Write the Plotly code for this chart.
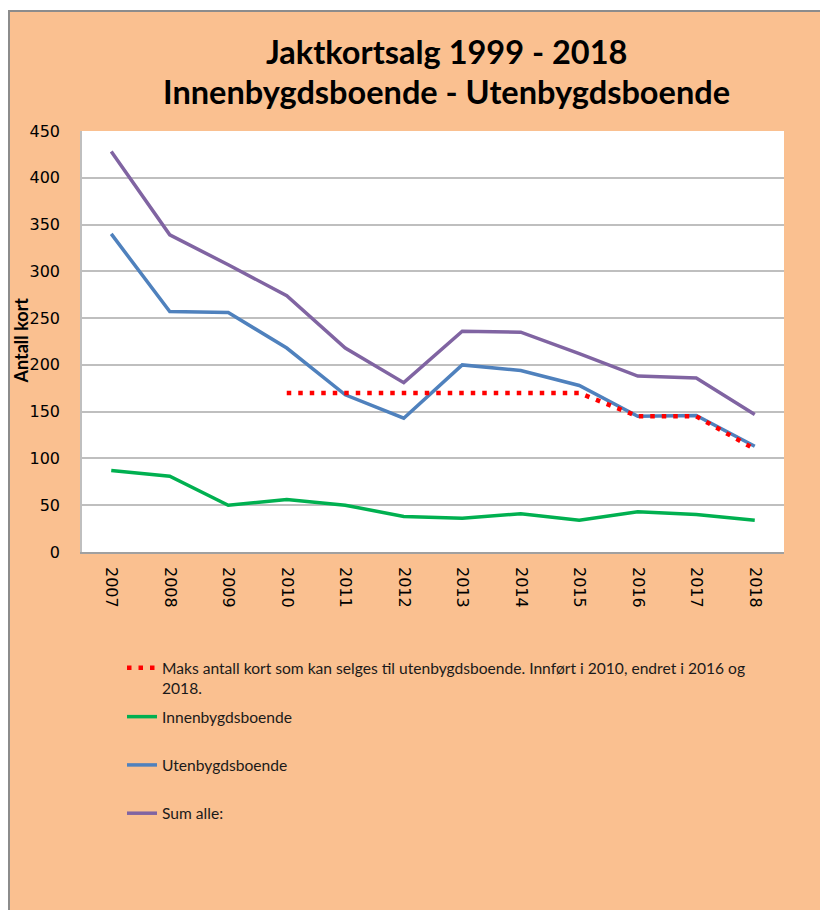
import plotly.graph_objects as go

years = ["2007", "2008", "2009", "2010", "2011", "2012", "2013", "2014", "2015", "2016", "2017", "2018"]
innen = [87, 81, 50, 56, 50, 38, 36, 41, 34, 43, 40, 34]
uten = [340, 257, 256, 218, 168, 143, 200, 194, 178, 145, 146, 113]
sum_alle = [428, 339, 307, 274, 218, 181, 236, 235, 212, 188, 186, 147]
maks = [None, None, None, 170, 170, 170, 170, 170, 170, 145, 145, 110]

name_maks = "Maks antall kort som kan selges til utenbygdsboende. Innført i 2010, endret i 2016 og<br>2018."
name_innen = "Innenbygdsboende"
name_uten = "Utenbygdsboende"
name_sum = "Sum alle:"
title1 = "Jaktkortsalg 1999 - 2018"
title2 = "Innenbygdsboende - Utenbygdsboende"
ytitle = "Antall kort"

# page geometry (the page body adds an 8px offset)
OFF = 8
PW, PH = 828, 910
W, H = PW - OFF, PH - OFF
L, R, T, B = 82, 784, 131, 552   # plot area in page pixels
ORANGE = "#FAC090"


def px(x):
    return (x - L) / (R - L)


def py(y):
    return (B - y) / (B - T)


fig = go.Figure()
fig.add_trace(go.Scatter(x=years, y=innen, name=name_innen, mode="lines",
                         line=dict(color="#00B050", width=3.5),
                         legend="legend2", legendgroup="g1"))
fig.add_trace(go.Scatter(x=years, y=uten, name=name_uten, mode="lines",
                         line=dict(color="#4F81BD", width=3.5),
                         legend="legend2", legendgroup="g2"))
fig.add_trace(go.Scatter(x=years, y=sum_alle, name=name_sum, mode="lines",
                         line=dict(color="#8064A2", width=3.5),
                         legend="legend2", legendgroup="g3"))
fig.add_trace(go.Scatter(x=years, y=maks, name=name_maks, mode="lines",
                         line=dict(color="#FF0000", width=4.5, dash="4.5px,7px"),
                         connectgaps=False, legend="legend"))

shapes = [
    dict(type="rect", xref="paper", yref="paper", x0=px(0), x1=px(PW), y0=py(0), y1=py(10.5),
         fillcolor="white", line=dict(width=0), layer="above"),
    dict(type="line", xref="paper", yref="paper", x0=px(8), x1=px(PW), y0=py(11), y1=py(11),
         line=dict(color="#8C8C8C", width=2), layer="above"),
    dict(type="line", xref="paper", yref="paper", x0=px(9), x1=px(9), y0=py(10), y1=py(PH),
         line=dict(color="#8C8C8C", width=2), layer="above"),
]

annotations = [
    dict(text="<b>" + title1 + "</b>", xref="paper", yref="paper", x=px(446), y=py(51),
         xanchor="center", yanchor="middle", showarrow=False,
         font=dict(family="Lato", size=32.5, color="black")),
    dict(text="<b>" + title2 + "</b>", xref="paper", yref="paper", x=px(446), y=py(92),
         xanchor="center", yanchor="middle", showarrow=False,
         font=dict(family="Lato", size=32.5, color="black")),
    dict(text="<b>" + ytitle + "</b>", xref="paper", yref="paper", x=px(20.5), y=py(341),
         xanchor="center", yanchor="middle", showarrow=False, textangle=-90,
         font=dict(family="Lato", size=18, color="black")),
]

fig.update_layout(
    width=W, height=H,
    margin=dict(l=L - OFF, r=PW - R, t=T - OFF, b=PH - B, pad=0),
    paper_bgcolor=ORANGE, plot_bgcolor="white",
    shapes=shapes, annotations=annotations,
    showlegend=True,
    legend=dict(x=px(122), y=py(651), xanchor="left", yanchor="top",
                bgcolor="rgba(0,0,0,0)", font=dict(family="Lato", size=15.6, color="#1a1a1a"),
                valign="top"),
    legend2=dict(x=px(122), y=py(700), xanchor="left", yanchor="top",
                 bgcolor="rgba(0,0,0,0)", font=dict(family="Lato", size=15.6, color="#1a1a1a"),
                 tracegroupgap=25),
)
fig.update_xaxes(type="category", range=[-0.5, 11.5], showgrid=False, showline=True,
                 linecolor="#A0A0A0", linewidth=1.5, tickangle=90, ticks="",
                 ticklabelstandoff=10,
                 tickfont=dict(family="DejaVu Sans", size=16, color="black"))
fig.update_yaxes(range=[0, 450], dtick=50, showgrid=True, gridcolor="#BFBFBF", gridwidth=1.5,
                 showline=True, linecolor="#BFBFBF", linewidth=1.5, zeroline=False, ticks="",
                 ticklabelstandoff=17,
                 tickfont=dict(family="DejaVu Sans", size=16, color="black"))

fig.write_html("out.html")
